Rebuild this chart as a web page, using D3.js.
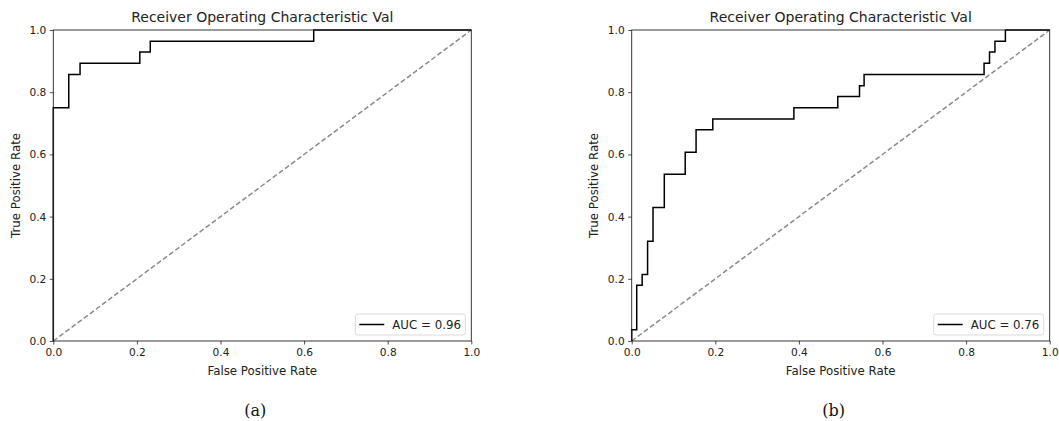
<!DOCTYPE html>
<html>
<head>
<meta charset="utf-8">
<script src="https://cdn.jsdelivr.net/npm/d3@7"></script>
<style>
  body { margin: 0; background: #fff; }
  svg { display: block; }
</style>
</head>
<body>
<div id="chart"></div>
<script>
// ROC points
const fprA = [0, 0, 0.037, 0.037, 0.064, 0.064, 0.207, 0.207, 0.232, 0.232, 0.623, 0.623, 1];
const tprA = [0, 0.75, 0.75, 0.857, 0.857, 0.893, 0.893, 0.929, 0.929, 0.964, 0.964, 1, 1];

const fprB = [0, 0, 0.012, 0.012, 0.025, 0.025, 0.038, 0.038, 0.051, 0.051, 0.078, 0.078,
              0.128, 0.128, 0.154, 0.154, 0.194, 0.194, 0.388, 0.388, 0.493, 0.493, 0.545, 0.545,
              0.556, 0.556, 0.843, 0.843, 0.856, 0.856, 0.869, 0.869, 0.894, 0.894, 1];
const tprB = [0, 0.036, 0.036, 0.179, 0.179, 0.214, 0.214, 0.321, 0.321, 0.429, 0.429, 0.536,
              0.536, 0.607, 0.607, 0.679, 0.679, 0.714, 0.714, 0.75, 0.75, 0.786, 0.786, 0.821,
              0.821, 0.857, 0.857, 0.893, 0.893, 0.929, 0.929, 0.964, 0.964, 1, 1];

const panelTitles = ["Receiver Operating Characteristic Val", "Receiver Operating Characteristic Val"];
const aucLabels = ["AUC = 0.96", "AUC = 0.76"];
const captions = ["(a)", "(b)"];
const tickValues = [0, 0.2, 0.4, 0.6, 0.8, 1.0];

const W = 1059, H = 421;
const plotW = 418, plotH = 311;
const offsets = [53.3, 631.7];
const marginTop = 30;

const svg = d3.select("#chart").append("svg")
  .attr("width", W)
  .attr("height", H)
  .style("font-family", "'DejaVu Sans', sans-serif");

const panels = [
  { fpr: fprA, tpr: tprA },
  { fpr: fprB, tpr: tprB }
];

panels.forEach((p, i) => {
  const g = svg.append("g")
    .attr("transform", `translate(${offsets[i]},${marginTop})`);

  const x = d3.scaleLinear().domain([0, 1]).range([0, plotW]);
  const y = d3.scaleLinear().domain([0, 1]).range([plotH, 0]);

  // chance diagonal
  g.append("line")
    .attr("x1", x(0)).attr("y1", y(0))
    .attr("x2", x(1)).attr("y2", y(1))
    .attr("stroke", "#8a8a8a")
    .attr("stroke-width", 1.5)
    .attr("stroke-dasharray", "5,2.6");

  const pts = p.fpr.map((v, k) => [v, p.tpr[k]]);
  const line = d3.line().x(d => x(d[0])).y(d => y(d[1]));

  g.append("path")
    .datum(pts)
    .attr("d", line)
    .attr("fill", "none")
    .attr("stroke", "#000")
    .attr("stroke-width", 1.5);

  // axes
  const xAxis = g.append("g")
    .attr("transform", `translate(0,${plotH})`)
    .call(d3.axisBottom(x).tickValues(tickValues).tickFormat(d3.format(".1f")).tickSize(3.5).tickPadding(3.5));
  const yAxis = g.append("g")
    .call(d3.axisLeft(y).tickValues(tickValues).tickFormat(d3.format(".1f")).tickSize(3.5).tickPadding(3.5));
  [xAxis, yAxis].forEach(a => {
    a.select(".domain").remove();
    a.selectAll("line").attr("stroke", "#222").attr("stroke-width", 0.8);
    a.selectAll("text").attr("fill", "#222").style("font-size", "10.6px").style("font-family", "'DejaVu Sans', sans-serif");
  });

  // frame
  g.append("rect")
    .attr("x", 0).attr("y", 0)
    .attr("width", plotW).attr("height", plotH)
    .attr("fill", "none")
    .attr("stroke", "#222")
    .attr("stroke-width", 0.9);

  g.append("text")
    .attr("x", plotW / 2)
    .attr("y", -8)
    .attr("text-anchor", "middle")
    .style("font-size", "14px")
    .attr("fill", "#222")
    .text(panelTitles[i]);

  g.append("text")
    .attr("x", plotW / 2)
    .attr("y", plotH + 33.5)
    .attr("text-anchor", "middle")
    .style("font-size", "11.8px")
    .attr("fill", "#222")
    .text("False Positive Rate");

  g.append("text")
    .attr("transform", `translate(-33.5,${plotH / 2}) rotate(-90)`)
    .attr("text-anchor", "middle")
    .style("font-size", "11.8px")
    .attr("fill", "#222")
    .text("True Positive Rate");

  // legend
  const lg = g.append("g")
    .attr("transform", `translate(${plotW - 116},${plotH - 27})`);
  lg.append("rect")
    .attr("width", 110).attr("height", 21)
    .attr("rx", 2.5)
    .attr("fill", "#fff")
    .attr("stroke", "#d6d6d6")
    .attr("stroke-width", 0.9);
  lg.append("line")
    .attr("x1", 4).attr("x2", 29)
    .attr("y1", 10.5).attr("y2", 10.5)
    .attr("stroke", "#000")
    .attr("stroke-width", 1.5);
  lg.append("text")
    .attr("x", 37).attr("y", 14.8)
    .style("font-size", "11.8px")
    .attr("fill", "#222")
    .text(aucLabels[i]);

  // caption
  svg.append("text")
    .attr("x", offsets[i] + 202)
    .attr("y", 415.5)
    .attr("text-anchor", "middle")
    .style("font-family", "'DejaVu Serif', serif")
    .style("font-size", "16px")
    .attr("fill", "#111")
    .text(captions[i]);
});
</script>
</body>
</html>
